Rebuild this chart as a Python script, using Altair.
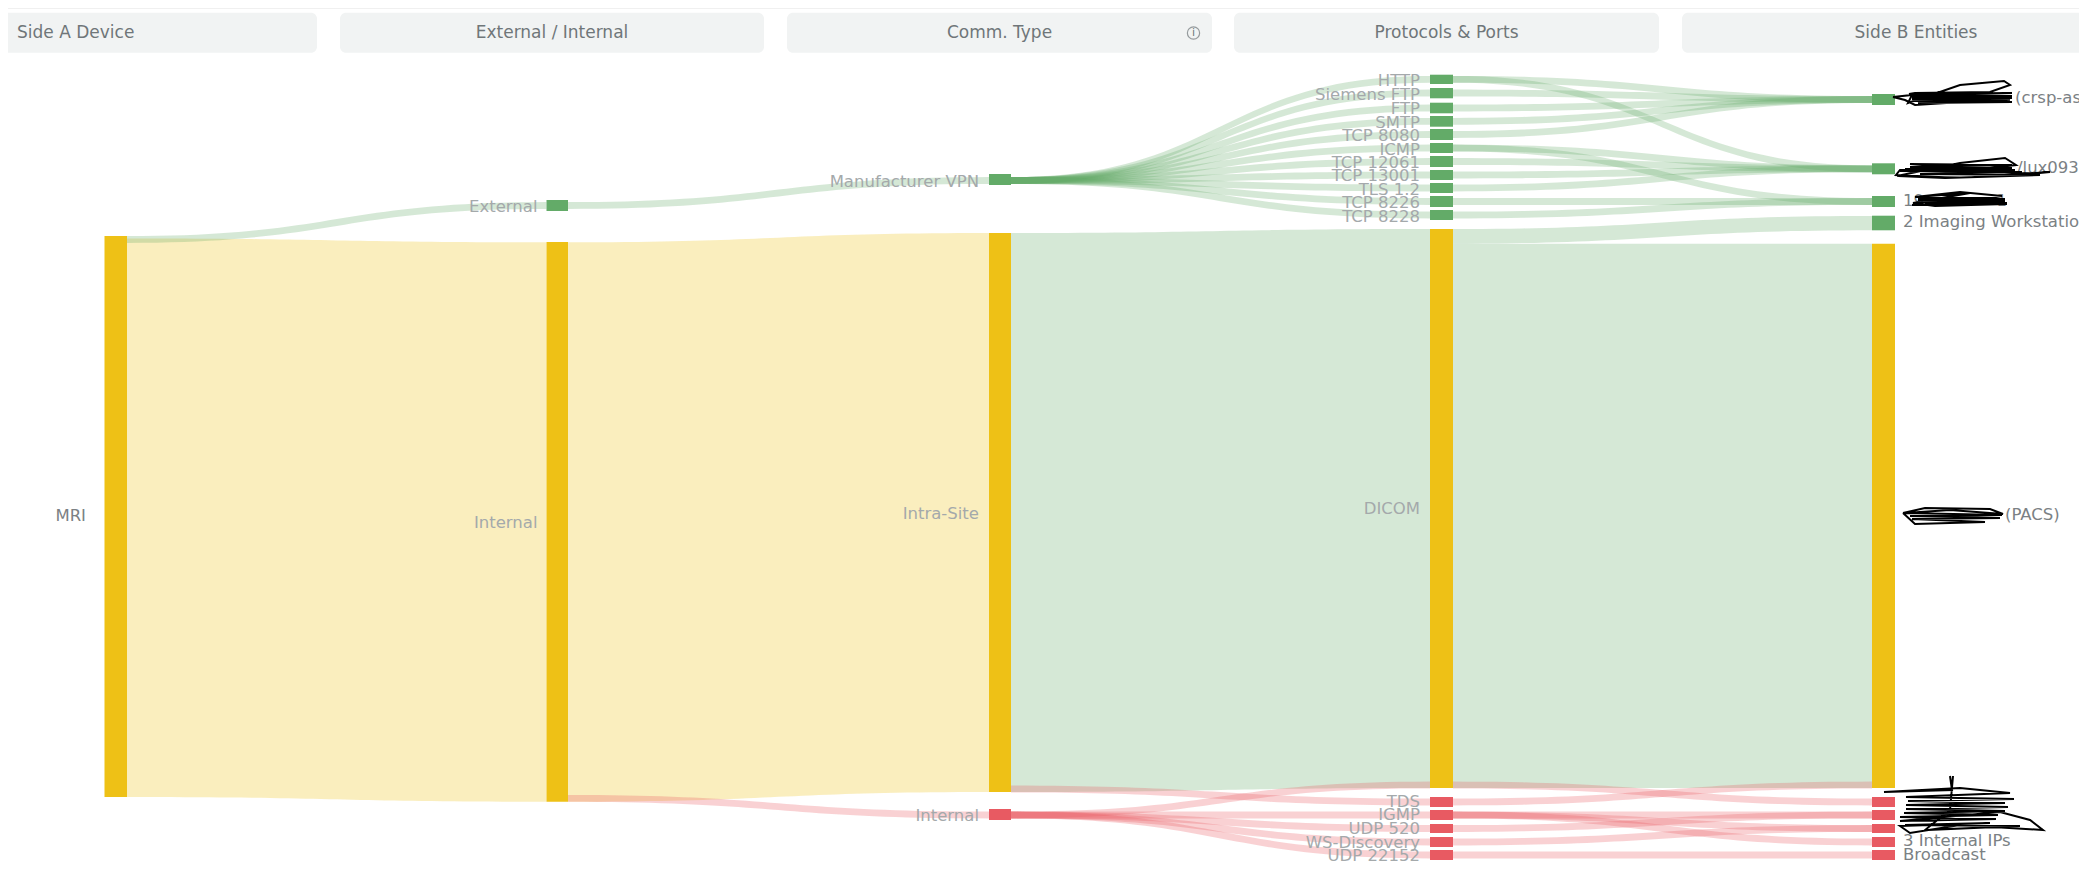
import altair as alt
import pandas as pd

FONT = "DejaVu Sans"
GREEN, YELLOW, RED = "#63ab68", "#eec116", "#e85a62"

# columns: left and right edges of the node bars
col_x0 = [104.5, 546.5, 989, 1430, 1872]
col_x1 = [127, 568, 1011, 1453, 1895]

# nodes: column, top, bottom, colour
nodes = [
    (0, 236, 797, YELLOW),
    (1, 200, 211, GREEN), (1, 242, 801.7, YELLOW),
    (2, 174, 185, GREEN), (2, 233, 792, YELLOW), (2, 809, 820, RED),
    (3, 74.7, 84, GREEN), (3, 88, 98.3, GREEN), (3, 102.7, 113.3, GREEN),
    (3, 116, 126.7, GREEN), (3, 129, 140, GREEN), (3, 143, 153, GREEN),
    (3, 156, 167, GREEN), (3, 170, 180, GREEN), (3, 183, 193, GREEN),
    (3, 196, 207, GREEN), (3, 210, 220, GREEN), (3, 229, 788, YELLOW),
    (3, 797, 807, RED), (3, 810, 820, RED), (3, 824, 833, RED),
    (3, 837, 847, RED), (3, 850, 860, RED),
    (4, 94, 105, GREEN), (4, 163.3, 174.3, GREEN), (4, 196, 207, GREEN),
    (4, 215.7, 230.3, GREEN), (4, 243.7, 788, YELLOW),
    (4, 797, 807, RED), (4, 810, 820, RED), (4, 824, 833, RED),
    (4, 837, 847, RED), (4, 850, 860, RED),
]

# wide links: from column, top/bottom at left, top/bottom at right, colour
wide_links = [
    (0, 238.5, 797, 242.3, 801.7, YELLOW),
    (1, 242.3, 801.7, 233, 792, YELLOW),
    (2, 233, 792, 229, 788, GREEN),
    (3, 229, 243.7, 216, 230.3, GREEN),
    (3, 243.7, 788, 243.7, 788, GREEN),
]

# thin links: from column, centre at left, centre at right, colour
thin_links = [
    (0, 239.5, 205.5, GREEN), (1, 205.5, 180.5, GREEN),
    (2, 180.5, 79.3, GREEN), (2, 180.5, 93, GREEN), (2, 180.5, 108, GREEN),
    (2, 180.5, 121.3, GREEN), (2, 180.5, 134.5, GREEN), (2, 180.5, 148, GREEN),
    (2, 180.5, 161.5, GREEN), (2, 180.5, 175, GREEN), (2, 180.5, 188, GREEN),
    (2, 180.5, 201.5, GREEN), (2, 180.5, 215, GREEN),
    (3, 79.3, 99.5, GREEN), (3, 93, 99.5, GREEN), (3, 108, 99.5, GREEN),
    (3, 121.3, 99.5, GREEN), (3, 134.5, 99.5, GREEN),
    (3, 79.3, 168.8, GREEN), (3, 148, 168.8, GREEN), (3, 161.5, 168.8, GREEN),
    (3, 175, 168.8, GREEN), (3, 188, 168.8, GREEN),
    (3, 148, 201.5, GREEN), (3, 201.5, 201.5, GREEN), (3, 215, 201.5, GREEN),
    (1, 798.4, 815, RED),
    (2, 789, 802, RED), (2, 815, 785, RED), (2, 815, 815, RED),
    (2, 815, 828.5, RED), (2, 815, 842, RED), (2, 815, 855, RED),
    (3, 785, 802, RED), (3, 802, 785, RED), (3, 815, 815, RED),
    (3, 815, 828.5, RED), (3, 815, 842, RED), (3, 828.5, 815, RED),
    (3, 842, 828.5, RED), (3, 855, 855, RED),
]
THIN = 6.8

# header pills
pill_x0 = [0, 340, 787, 1234, 1682]
pill_x1 = [317, 764, 1212, 1659, 2100]
header_text = ["Side A Device", "External / Internal", "Comm. Type", "Protocols & Ports", "Side B Entities"]
header_x = [17, 552, 999.5, 1446.5, 1916]
header_align = ["left", "center", "center", "center", "center"]

# labels: x, y, text, align, colour
PALE, DARK = "#a4a9ab", "#7b8184"
labels = [
    (86, 515.5, "MRI", "right", DARK),
    (537.5, 207, "External", "right", PALE), (537.5, 522.7, "Internal", "right", PALE),
    (979, 181.5, "Manufacturer VPN", "right", PALE), (979, 514, "Intra-Site", "right", PALE),
    (979, 816, "Internal", "right", PALE),
    (1420, 81, "HTTP", "right", PALE), (1420, 95, "Siemens FTP", "right", PALE),
    (1420, 108.7, "FTP", "right", PALE), (1420, 122.7, "SMTP", "right", PALE),
    (1420, 136, "TCP 8080", "right", PALE), (1420, 149.7, "ICMP", "right", PALE),
    (1420, 163, "TCP 12061", "right", PALE), (1420, 176, "TCP 13001", "right", PALE),
    (1420, 190, "TLS 1.2", "right", PALE), (1420, 203, "TCP 8226", "right", PALE),
    (1420, 216.7, "TCP 8228", "right", PALE), (1420, 508.5, "DICOM", "right", PALE),
    (1420, 802, "TDS", "right", PALE), (1420, 815, "IGMP", "right", PALE),
    (1420, 829, "UDP 520", "right", PALE), (1420, 842.7, "WS-Discovery", "right", PALE),
    (1420, 856, "UDP 22152", "right", PALE),
    (2015, 98, "(crsp-as-", "left", DARK), (2017, 168, "/lux0933", "left", DARK),
    (1903, 201, "19", "left", DARK), (2007, 201, "1", "right", DARK),
    (1903, 221.7, "2 Imaging Workstations", "left", DARK),
    (2005, 515, "(PACS)", "left", DARK),
    (1903, 841, "3 Internal IPs", "left", DARK), (1903, 854.5, "Broadcast", "left", DARK),
]

# hand-drawn redaction scribbles over some labels (x, y)
scribble_a_x = [1893, 1912, 1908, 1960, 2004, 2010, 1990, 1915, 1909, 2012, 1910, 2012, 1912, 2012, 1912, 2010, 1915, 2012, 1918, 1960, 2010, 1915, 1905, 1893]
scribble_a_y = [97, 95, 103, 85, 81, 85, 92, 93, 94, 93, 95, 96, 97, 98, 99, 100, 101, 102, 103, 101, 99, 105, 100, 97]
scribble_b_x = [1897, 1960, 2005, 2016, 1990, 1900, 1896, 1960, 2050, 2030, 1910, 2012, 1910, 2012, 1905, 2015, 1900, 2022, 1920, 2040, 1945, 1898]
scribble_b_y = [176, 163, 158, 165, 168, 170, 175, 178, 172, 174, 164, 165, 167, 168, 169, 170, 171, 172, 174, 175, 178, 176]
scribble_c_x = [1915, 1960, 2002, 1990, 1918, 2005, 1918, 2005, 1920, 2007, 1925, 2005, 1912, 2007, 1935, 1913, 1970, 1915]
scribble_c_y = [197, 192, 196, 198, 198, 199, 200, 201, 202, 203, 203, 204, 205, 204, 206, 203, 193, 197]
scribble_d_x = [1950, 1952, 1884, 1960, 2010, 1906, 2014, 1908, 2005, 1906, 2008, 1906, 2005, 1904, 1998, 1900, 1996, 1900, 2000, 2030, 2043, 1960, 1910, 1900, 1990, 1905, 2020, 1925, 1950, 1953]
scribble_d_y = [776, 790, 792, 788, 793, 797, 799, 801, 803, 805, 807, 809, 811, 813, 815, 817, 819, 821, 812, 820, 830, 825, 833, 826, 823, 825, 826, 830, 810, 776]
scribble_e_x = [1903, 1925, 1990, 2003, 1950, 1905, 2002, 1910, 2000, 1912, 1985, 1915, 1903]
scribble_e_y = [513, 508, 509, 514, 510, 513, 515, 516, 518, 519, 522, 524, 513]
scribbles = [
    (scribble_a_x, scribble_a_y), (scribble_b_x, scribble_b_y), (scribble_c_x, scribble_c_y),
    (scribble_d_x, scribble_d_y), (scribble_e_x, scribble_e_y),
]

# ---- tables -------------------------------------------------------------
def ribbon(lid, col, t0, b0, t1, b1, colour):
    x0, x1 = col_x1[col], col_x0[col + 1]
    xm = (x0 + x1) / 2
    rows = []
    for i in range(41):
        t = i / 40
        x = (1 - t) ** 3 * x0 + 3 * (1 - t) ** 2 * t * xm + 3 * (1 - t) * t ** 2 * xm + t ** 3 * x1
        s = 3 * t ** 2 - 2 * t ** 3
        rows.append(dict(link=lid, i=i, px=x, ytop=t0 + (t1 - t0) * s, ybot=b0 + (b1 - b0) * s, colour=colour))
    return rows

link_rows = []
for n, (c, t0, b0, t1, b1, colour) in enumerate(wide_links):
    link_rows += ribbon(f"w{n}", c, t0, b0, t1, b1, colour)
for n, (c, a, b, colour) in enumerate(thin_links):
    link_rows += ribbon(f"t{n}", c, a - THIN / 2, a + THIN / 2, b - THIN / 2, b + THIN / 2, colour)
links_df = pd.DataFrame(link_rows)

nodes_df = pd.DataFrame(
    [dict(x0=col_x0[c], x1=col_x1[c], y0=a, y1=b, colour=k) for c, a, b, k in nodes]
)
pills_df = pd.DataFrame(dict(x0=pill_x0, x1=pill_x1, y0=12.7, y1=52.7))
heads_df = pd.DataFrame(dict(x=header_x, y=33, text=header_text, align=header_align))
labels_df = pd.DataFrame(labels, columns=["x", "y", "text", "align", "colour"])
scrib_df = pd.DataFrame(
    [dict(s=n, i=i, x=px, y=py) for n, (xs, ys) in enumerate(scribbles) for i, (px, py) in enumerate(zip(xs, ys))]
)

# ---- scales -------------------------------------------------------------
X = alt.Scale(domain=[8, 2079], nice=False, zero=False)
Y = alt.Scale(domain=[863, 8], nice=False, zero=False)
def xe(f): return alt.X(f, type="quantitative", scale=X, axis=None)
def ye(f): return alt.Y(f, type="quantitative", scale=Y, axis=None)
C = alt.Color("colour:N", scale=None, legend=None)

layers = []
layers.append(alt.Chart(pd.DataFrame(dict(x0=[8], x1=[2079], y0=[8], y1=[9]))).mark_rect(color="#f0f0f0", clip=True).encode(
    x=xe("x0"), x2="x1", y=ye("y0"), y2="y1"))
layers.append(alt.Chart(pills_df).mark_rect(color="#f1f3f3", cornerRadius=6, clip=True).encode(
    x=xe("x0"), x2="x1", y=ye("y0"), y2="y1"))
for k, op in [(YELLOW, 0.28), (GREEN, 0.27), (RED, 0.28)]:
    layers.append(
        alt.Chart(links_df[links_df["colour"] == k]).mark_area(
            fill=k, fillOpacity=op, stroke=None, orient="vertical", interpolate="linear"
        ).encode(x=xe("px"), y=ye("ytop"), y2=alt.Y2("ybot"), detail="link:N")
    )
layers.append(alt.Chart(nodes_df).mark_rect().encode(x=xe("x0"), x2="x1", y=ye("y0"), y2="y1", color=C))
for al in ["left", "right"]:
    layers.append(
        alt.Chart(labels_df[labels_df["align"] == al]).mark_text(
            font=FONT, fontSize=16.5, align=al, baseline="middle", clip=True
        ).encode(x=xe("x"), y=ye("y"), text="text:N", color=C)
    )
for al in ["left", "center"]:
    layers.append(
        alt.Chart(heads_df[heads_df["align"] == al]).mark_text(
            font=FONT, fontSize=17, align=al, baseline="middle", color="#6f7679"
        ).encode(x=xe("x"), y=ye("y"), text="text:N")
    )
icon_x = [1193.5]
icon_y = [33]
icon_df = pd.DataFrame(dict(x=icon_x, y=icon_y, t=["i"]))
layers.append(alt.Chart(icon_df).mark_point(shape="circle", size=150, filled=False, stroke="#6f7679", strokeWidth=1.2).encode(x=xe("x"), y=ye("y")))
layers.append(alt.Chart(icon_df).mark_text(font=FONT, fontSize=11, color="#6f7679", align="center", baseline="middle").encode(x=xe("x"), y=ye("y"), text="t:N"))
layers.append(
    alt.Chart(scrib_df).mark_line(color="#000000", strokeWidth=2, interpolate="linear").encode(
        x=xe("x"), y=ye("y"), detail="s:N", order="i:Q")
)

chart = alt.layer(*layers).properties(
    width=2071, height=855, padding=0,
    autosize=alt.AutoSizeParams(type="none"), background="white",
).configure_view(stroke=None)

chart.save("out.html", embed_options={"renderer": "svg", "actions": False})
